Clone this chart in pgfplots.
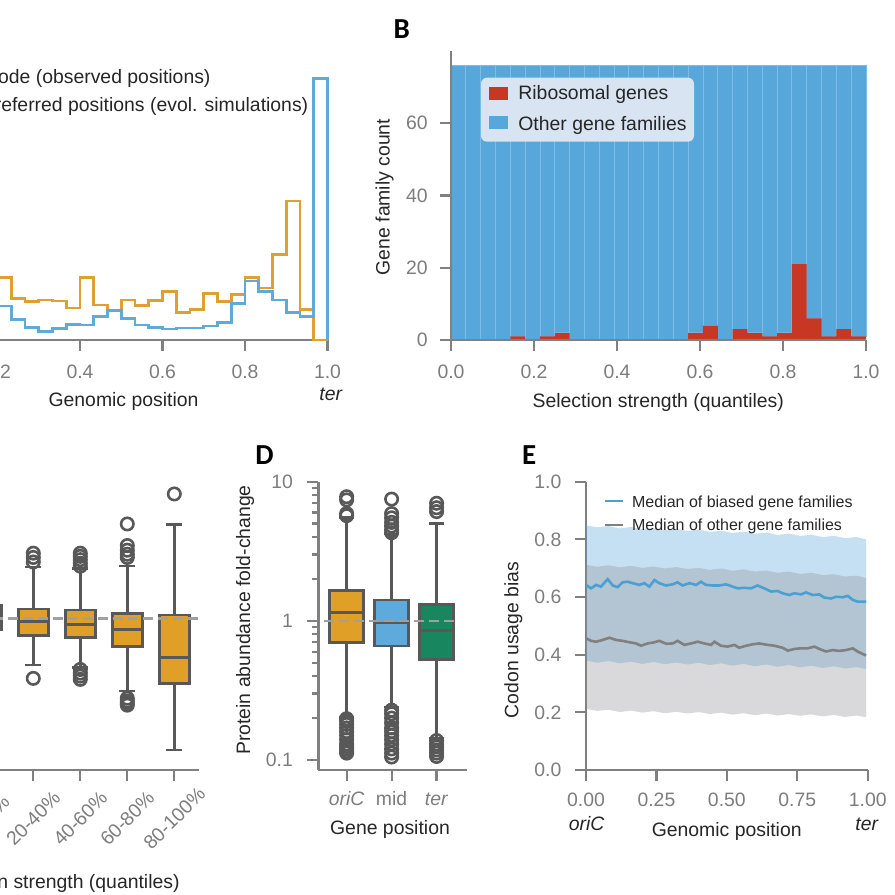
\documentclass[border=0pt]{standalone}
\usepackage{pgfplots}
\pgfplotsset{compat=1.18}
\usepackage{fontspec}
\setmainfont{Liberation Sans}
\newfontfamily\letterfont{Carlito}
\definecolor{axgrey}{RGB}{128,128,128}
\definecolor{tickgrey}{RGB}{125,125,125}
\definecolor{txt}{RGB}{38,38,38}
\definecolor{aorange}{RGB}{222,160,50}
\definecolor{ablue}{RGB}{95,170,215}
\definecolor{bblue}{RGB}{88,167,218}
\definecolor{bedge}{RGB}{125,188,228}
\definecolor{bred}{RGB}{200,55,35}
\definecolor{legbg}{RGB}{216,228,241}
\definecolor{boxor}{RGB}{224,160,40}
\definecolor{boxbl}{RGB}{95,170,220}
\definecolor{boxgr}{RGB}{24,135,95}
\definecolor{boxedge}{RGB}{88,88,88}
\definecolor{dashgrey}{RGB}{160,160,160}
\definecolor{eblue}{RGB}{75,160,210}
\definecolor{egrey}{RGB}{128,128,128}
\definecolor{bandblue}{RGB}{80,160,215}
\definecolor{bandgrey}{RGB}{140,140,145}
\newcommand{\lbl}{\fontsize{9.7}{11.6}\selectfont}
\pgfplotsset{
 refaxis/.style={
  scale only axis, anchor=south west, clip=false, enlargelimits=false,
  axis lines*=left,
  axis line style={-, draw=axgrey, line width=1.25pt},
  tick style={draw=axgrey, line width=1.1pt},
  tick align=outside, major tick length=5.5pt, minor tick length=3.2pt,
  tick label style={font=\lbl, text=tickgrey},
  yticklabel style={anchor=east, inner sep=0pt},
  /pgf/number format/assume math mode=true,
 },
 bxline/.style={draw=boxedge, line width=1.35pt, mark=none, line join=miter},
 flier/.style={only marks, mark=o, mark size=3.1pt, mark options={draw=boxedge, line width=1.3pt, fill=none}},
}
\tikzset{lab/.style={inner sep=0pt, font=\lbl, text=txt},
  letter/.style={anchor=base west, inner sep=0pt, font={\letterfont\bfseries\fontsize{14.5}{16}\selectfont}}}
% box: left, right, q1, median, q3, fill
\newcommand{\bxbox}[6]{%
 \addplot[bxline, fill=#6] coordinates {(#1,#3) (#2,#3) (#2,#5) (#1,#5)} -- cycle;
 \addplot[bxline] coordinates {(#1,#4) (#2,#4)};}
% whisker: x, cap left, cap right, from, to
\newcommand{\bxwh}[5]{%
 \addplot[bxline] coordinates {(#1,#4) (#1,#5)};
 \addplot[bxline] coordinates {(#2,#5) (#3,#5)};}
\begin{document}
\begin{tikzpicture}
\useasboundingbox (0pt,0pt) rectangle (447.5pt,447.5pt);
\clip (0pt,0pt) rectangle (447.5pt,447.5pt);

% ---------------- Panel A ----------------
\begin{axis}[refaxis, at={(-42.5pt,277.5pt)}, width=206.25pt, height=140pt,
  xmin=0, xmax=1, ymin=0, ymax=80,
  xtick={0,0.2,0.4,0.6,0.8,1}, xticklabels={0.0,0.2,0.4,0.6,0.8,1.0},
  xticklabel style={anchor=base, yshift=-13.65pt},
  ytick=\empty]
\addplot[const plot, draw=aorange, line width=1.35pt, mark=none] coordinates {
(0.2,17.8) (0.2333,11.9) (0.2667,10.9) (0.3,11.4) (0.3333,11.1) (0.3667,9.1)
(0.4,17.8) (0.4333,10.0) (0.4667,8.4) (0.5,11.4) (0.5333,9.8) (0.5667,11.2)
(0.6,13.8) (0.6333,7.9) (0.6667,8.8) (0.7,13.3) (0.7333,10.9) (0.7667,12.9)
(0.8,17.8) (0.8333,14.9) (0.8667,24.5) (0.9,39.7) (0.9333,8.8) (0.9667,0) (1,0)};
\addplot[const plot, draw=ablue, line width=1.35pt, mark=none] coordinates {
(0.2,9.7) (0.2333,5.9) (0.2667,3.6) (0.3,2.4) (0.3333,3.3) (0.3667,4.5)
(0.4,4.3) (0.4333,6.7) (0.4667,8.4) (0.5,6.2) (0.5333,4.3) (0.5667,3.6)
(0.6,3.1) (0.6333,3.4) (0.6667,3.4) (0.7,4.0) (0.7333,4.9) (0.7667,10.5)
(0.8,16.9) (0.8333,13.8) (0.8667,11.4) (0.9,7.8) (0.9333,6.7) (0.9667,74.8) (1,0)};
\end{axis}

% ---------------- Panel B ----------------
\begin{axis}[refaxis, axis on top, at={(225.5pt,277.5pt)}, width=207.5pt, height=144.5pt,
  xmin=0, xmax=1, ymin=0, ymax=80,
  xtick={0,0.2,0.4,0.6,0.8,1}, xticklabels={0.0,0.2,0.4,0.6,0.8,1.0},
  xticklabel style={anchor=base, yshift=-13.65pt},
  ytick={0,20,40,60}, yticklabels={0,20,40,60},
  yticklabel style={xshift=-6pt},
  ybar stacked, bar width=0.0357143]
\addplot[fill=bred, draw=none] coordinates {
(0.017857,0) (0.053571,0) (0.089286,0) (0.125,0) (0.160714,1) (0.196429,0) (0.232143,1)
(0.267857,2) (0.303571,0) (0.339286,0) (0.375,0) (0.410714,0) (0.446429,0) (0.482143,0)
(0.517857,0) (0.553571,0) (0.589286,2) (0.625,4) (0.660714,0) (0.696429,3) (0.732143,2)
(0.767857,1) (0.803571,2) (0.839286,21) (0.875,6) (0.910714,1) (0.946429,3) (0.982143,1)};
\addplot[fill=bblue, draw=bedge, line width=0.4pt] coordinates {
(0.017857,76) (0.053571,76) (0.089286,76) (0.125,76) (0.160714,75) (0.196429,76) (0.232143,75)
(0.267857,74) (0.303571,76) (0.339286,76) (0.375,76) (0.410714,76) (0.446429,76) (0.482143,76)
(0.517857,76) (0.553571,76) (0.589286,74) (0.625,72) (0.660714,76) (0.696429,73) (0.732143,74)
(0.767857,75) (0.803571,74) (0.839286,55) (0.875,70) (0.910714,75) (0.946429,73) (0.982143,75)};
\end{axis}
% legend of B
\fill[legbg, rounded corners=3pt] (240.5pt,408.65pt) rectangle (347pt,376.65pt);
\fill[bred] (244.5pt,404pt) rectangle (254pt,397.5pt);
\fill[bblue] (244.5pt,389.5pt) rectangle (254pt,382.8pt);
\node[lab, anchor=base west] at (259pt,397.5pt) {Ribosomal genes};
\node[lab, anchor=base west] at (259pt,382.25pt) {Other gene families};

% ---------------- Panel C ----------------
\begin{axis}[refaxis, ymode=log, at={(-44.45pt,62.5pt)}, width=144.05pt, height=145.25pt,
  xmin=-1.6, xmax=4.53, ymin=0.0813, ymax=10,
  xtick={0,1,2,3,4}, xticklabels={0-20\%,20-40\%,40-60\%,60-80\%,80-100\%},
  xticklabel style={anchor=center, yshift=-18.75pt, rotate=45},
  ytick=\empty]
% 0-20%
\bxwh{0}{-0.17}{0.17}{1.25}{2.5}
\bxwh{0}{-0.17}{0.17}{0.83}{0.45}
\bxbox{-0.32}{0.32}{0.83}{1.0}{1.25}{boxor}
% 20-40%
\bxwh{1}{0.83}{1.17}{1.17}{2.35}
\bxwh{1}{0.83}{1.17}{0.752}{0.463}
\bxbox{0.68}{1.32}{0.752}{0.948}{1.17}{boxor}
\addplot[flier] coordinates {(1,2.95) (1,2.75) (1,2.55) (1,0.371)};
% 40-60%
\bxwh{2}{1.83}{2.17}{1.151}{2.3}
\bxwh{2}{1.83}{2.17}{0.732}{0.446}
\bxbox{1.68}{2.32}{0.732}{0.908}{1.151}{boxor}
\addplot[flier] coordinates {(2,2.95) (2,2.8) (2,2.65) (2,2.5) (2,2.38) (2,0.43) (2,0.405) (2,0.385) (2,0.365)};
% 60-80%
\bxwh{3}{2.83}{3.17}{1.09}{2.39}
\bxwh{3}{2.83}{3.17}{0.627}{0.301}
\bxbox{2.68}{3.32}{0.627}{0.836}{1.09}{boxor}
\addplot[flier] coordinates {(3,4.79) (3,3.35) (3,3.1) (3,2.9) (3,2.75) (3,0.267) (3,0.255) (3,0.245) (3,0.238)};
% 80-100%
\bxwh{4}{3.83}{4.17}{1.06}{4.76}
\bxwh{4}{3.83}{4.17}{0.342}{0.113}
\bxbox{3.68}{4.32}{0.342}{0.526}{1.06}{boxor}
\addplot[flier] coordinates {(4,7.87)};
\addplot[draw=dashgrey, line width=1.25pt, dash pattern=on 5pt off 2.5pt, mark=none] coordinates {(-0.5,1) (4.5,1)};
\end{axis}

% ---------------- Panel D ----------------
\begin{axis}[refaxis, ymode=log, at={(159.15pt,62.5pt)}, width=74.2pt, height=144.15pt,
  xmin=-0.63, xmax=2.67, ymin=0.0847, ymax=10,
  xtick={0,1,2}, xticklabels={\textit{oriC},mid,\textit{ter}},
  xticklabel style={anchor=base, yshift=-12.5pt},
  ytick={0.1,1,10}, yticklabels={0.1,1,10},
  minor ytick={0.2,0.3,0.4,0.5,0.6,0.7,0.8,0.9,2,3,4,5,6,7,8,9},
  yticklabel style={xshift=-7pt}]
% oriC
\bxwh{0}{-0.16}{0.16}{1.644}{5.55}
\bxwh{0}{-0.16}{0.16}{0.699}{0.204}
\bxbox{-0.38}{0.38}{0.699}{1.142}{1.644}{boxor}
\addplot[flier] coordinates {(0,7.8) (0,7.4) (0,5.9) (0,5.7)
 (0,0.198) (0,0.19) (0,0.18) (0,0.17) (0,0.16) (0,0.15) (0,0.14) (0,0.13) (0,0.125) (0,0.12) (0,0.115) (0,0.112)};
% mid
\bxwh{1}{0.84}{1.16}{1.41}{4.2}
\bxwh{1}{0.84}{1.16}{0.658}{0.24}
\bxbox{0.62}{1.38}{0.658}{0.967}{1.41}{boxbl}
\addplot[flier] coordinates {(1,7.5) (1,5.9) (1,5.5) (1,5.1) (1,4.8) (1,4.5) (1,4.3)
 (1,0.228) (1,0.215) (1,0.2) (1,0.185) (1,0.17) (1,0.16) (1,0.15) (1,0.14) (1,0.13) (1,0.12) (1,0.112) (1,0.105)};
% ter
\bxwh{2}{1.84}{2.16}{1.318}{5.02}
\bxwh{2}{1.84}{2.16}{0.527}{0.143}
\bxbox{1.62}{2.38}{0.527}{0.857}{1.318}{boxgr}
\addplot[flier] coordinates {(2,7.0) (2,6.5) (2,6.1)
 (2,0.138) (2,0.13) (2,0.124) (2,0.118) (2,0.112) (2,0.106)};
\addplot[draw=dashgrey, line width=1.25pt, dash pattern=on 5pt off 2.5pt, mark=none] coordinates {(-0.5,1) (2.5,1)};
\end{axis}

% ---------------- Panel E ----------------
\begin{axis}[refaxis, at={(293pt,62.5pt)}, width=140.85pt, height=144.15pt,
  xmin=0, xmax=1, ymin=0, ymax=1,
  xtick={0,0.25,0.5,0.75,1}, xticklabels={0.00,0.25,0.50,0.75,1.00},
  xticklabel style={anchor=base, yshift=-12.85pt},
  ytick={0,0.2,0.4,0.6,0.8,1}, yticklabels={0.0,0.2,0.4,0.6,0.8,1.0},
  yticklabel style={xshift=-6.65pt}]
\addplot[forget plot, fill=bandblue, fill opacity=0.33, draw=none] coordinates {
(0,0.848) (0.04,0.842) (0.08,0.846) (0.12,0.838) (0.16,0.843) (0.2,0.835) (0.24,0.84) (0.28,0.832) (0.32,0.837) (0.36,0.829) (0.4,0.834) (0.44,0.826) (0.48,0.83) (0.52,0.822) (0.56,0.827) (0.6,0.819) (0.64,0.824) (0.68,0.815) (0.72,0.82) (0.76,0.812) (0.8,0.816) (0.84,0.808) (0.88,0.812) (0.92,0.804) (0.96,0.808) (0.994,0.8)
(0.994,0.35) (0.96,0.357) (0.92,0.352) (0.88,0.36) (0.84,0.354) (0.8,0.362) (0.76,0.356) (0.72,0.364) (0.68,0.358) (0.64,0.366) (0.6,0.36) (0.56,0.368) (0.52,0.362) (0.48,0.37) (0.44,0.364) (0.4,0.372) (0.36,0.366) (0.32,0.373) (0.28,0.367) (0.24,0.375) (0.2,0.368) (0.16,0.376) (0.12,0.37) (0.08,0.378) (0.04,0.372) (0,0.38)} -- cycle;
\addplot[forget plot, fill=bandgrey, fill opacity=0.33, draw=none] coordinates {
(0,0.712) (0.04,0.705) (0.08,0.71) (0.12,0.703) (0.16,0.708) (0.2,0.701) (0.24,0.706) (0.28,0.699) (0.32,0.704) (0.36,0.697) (0.4,0.701) (0.44,0.694) (0.48,0.699) (0.52,0.691) (0.56,0.696) (0.6,0.688) (0.64,0.692) (0.68,0.684) (0.72,0.688) (0.76,0.68) (0.8,0.684) (0.84,0.676) (0.88,0.679) (0.92,0.671) (0.96,0.674) (0.994,0.666)
(0.994,0.183) (0.96,0.189) (0.92,0.184) (0.88,0.191) (0.84,0.186) (0.8,0.193) (0.76,0.188) (0.72,0.194) (0.68,0.189) (0.64,0.196) (0.6,0.19) (0.56,0.197) (0.52,0.192) (0.48,0.199) (0.44,0.194) (0.4,0.201) (0.36,0.196) (0.32,0.202) (0.28,0.197) (0.24,0.204) (0.2,0.199) (0.16,0.206) (0.12,0.201) (0.08,0.209) (0.04,0.205) (0,0.212)} -- cycle;
\addplot[draw=eblue, line width=1.3pt, mark=none] coordinates {
(0,0.642) (0.018,0.630) (0.036,0.642) (0.053,0.636) (0.077,0.662) (0.095,0.640) (0.112,0.634) (0.130,0.651) (0.148,0.653) (0.166,0.648) (0.189,0.642) (0.207,0.648) (0.225,0.636) (0.243,0.659) (0.260,0.648) (0.284,0.640) (0.308,0.644) (0.325,0.651) (0.343,0.640) (0.367,0.648) (0.391,0.642) (0.408,0.653) (0.426,0.642) (0.450,0.640) (0.473,0.640) (0.497,0.644) (0.521,0.636) (0.538,0.630) (0.562,0.632) (0.586,0.630) (0.609,0.640) (0.633,0.630) (0.657,0.619) (0.680,0.621) (0.698,0.613) (0.722,0.607) (0.740,0.613) (0.763,0.609) (0.781,0.616) (0.805,0.607) (0.828,0.609) (0.846,0.598) (0.870,0.595) (0.888,0.601) (0.911,0.599) (0.929,0.604) (0.947,0.590) (0.964,0.584) (0.994,0.584)};
\addplot[draw=egrey, line width=1.3pt, mark=none] coordinates {
(0,0.457) (0.018,0.448) (0.036,0.445) (0.059,0.451) (0.083,0.459) (0.107,0.451) (0.130,0.448) (0.154,0.443) (0.178,0.439) (0.195,0.431) (0.219,0.439) (0.243,0.443) (0.260,0.448) (0.284,0.438) (0.308,0.439) (0.325,0.448) (0.349,0.434) (0.373,0.439) (0.396,0.445) (0.420,0.439) (0.444,0.434) (0.456,0.445) (0.479,0.431) (0.503,0.428) (0.527,0.434) (0.544,0.424) (0.568,0.431) (0.592,0.436) (0.615,0.439) (0.645,0.434) (0.669,0.431) (0.698,0.424) (0.716,0.414) (0.740,0.420) (0.763,0.422) (0.787,0.422) (0.811,0.428) (0.828,0.420) (0.852,0.411) (0.876,0.416) (0.899,0.413) (0.923,0.416) (0.947,0.422) (0.964,0.411) (0.994,0.397)};
\end{axis}
% legend of E
\draw[eblue, line width=1.3pt] (302.5pt,197pt) -- (311.5pt,197pt);
\draw[egrey, line width=1.3pt] (302.5pt,185pt) -- (311.5pt,185pt);
\node[lab, anchor=base west, font=\fontsize{8}{9.6}\selectfont] at (315.85pt,193.85pt) {Median of biased gene families};
\node[lab, anchor=base west, font=\fontsize{8}{9.6}\selectfont] at (315.85pt,182.15pt) {Median of other gene families};

% ---------------- Text ----------------
\node[lab, anchor=base west] at (-9.25pt,405.75pt) {Mode (observed positions)};
\node[lab, anchor=base west] at (-9.25pt,391.75pt) {Preferred positions (evol. simulations)};
\node[lab, anchor=base] at (61.75pt,244pt) {Genomic position};
\node[lab, anchor=base, font=\lbl\itshape] at (165.4pt,247pt) {ter};

\node[letter] at (196.65pt,428.35pt) {B};
\node[lab, rotate=90] at (192.35pt,349pt) {Gene family count};
\node[lab, anchor=base] at (329.15pt,243.75pt) {Selection strength (quantiles)};

\node[lab, anchor=base east] at (90pt,3.35pt) {Selection strength (quantiles)};

\node[letter] at (127.5pt,215pt) {D};
\node[lab, rotate=90] at (122.5pt,137.5pt) {Protein abundance fold-change};
\node[lab, anchor=base] at (195pt,30.5pt) {Gene position};

\node[letter] at (260.85pt,215pt) {E};
\node[lab, rotate=90] at (256.65pt,127.5pt) {Codon usage bias};
\node[lab, anchor=base] at (363.35pt,29.15pt) {Genomic position};
\node[lab, anchor=base, font=\lbl\itshape] at (293.35pt,32pt) {oriC};
\node[lab, anchor=base, font=\lbl\itshape] at (433.35pt,32pt) {ter};
\end{tikzpicture}
\end{document}
